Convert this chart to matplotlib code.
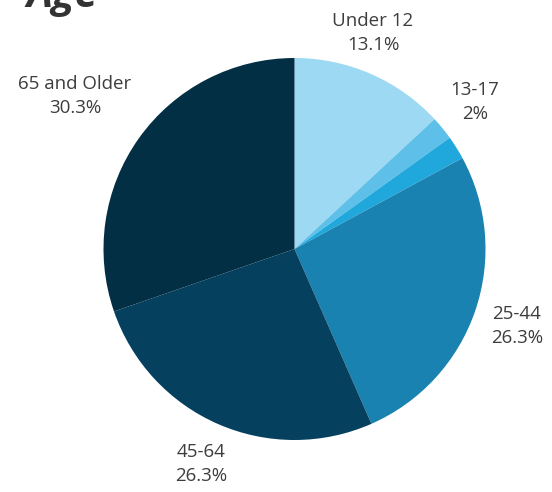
import matplotlib.pyplot as plt

# slices clockwise from 12 o'clock
AGE_GROUPS = ["Under 12", "13-17", "18-24", "25-44", "45-64", "65 and Older"]
SHARES = [13.1, 2, 2, 26.3, 26.3, 30.3]
SHOW_LABEL = [True, True, False, True, True, True]

COLORS = ["#9dd9f2", "#5ec0e8", "#20a8dd", "#1a82b0", "#05405e", "#032f45"]

# label centres in pixels (x, y from top)
LABEL_POS = {
    "Under 12": (373, 33),
    "13-17": (475, 102),
    "25-44": (517, 326),
    "45-64": (201, 464),
    "65 and Older": (75, 96),
}

W, H = 552, 492
CX, CY, R = 294.5, 249, 191

plt.rcParams['font.family'] = ['Open Sans', 'DejaVu Sans']
fig = plt.figure(figsize=(W / 100, H / 100), dpi=100)
ax = fig.add_axes([(CX - R) / W, (H - CY - R) / H, 2 * R / W, 2 * R / H])

ax.pie(SHARES, colors=COLORS, startangle=90, counterclock=False, radius=1,
       wedgeprops={'linewidth': 0})
ax.set_xlim(-1, 1)
ax.set_ylim(-1, 1)
ax.set_aspect('equal')
ax.axis('off')

for name, share, show in zip(AGE_GROUPS, SHARES, SHOW_LABEL):
    if not show:
        continue
    px, py = LABEL_POS[name]
    fig.text(px / W, 1 - py / H, f"{name}\n{share:g}%", ha='center', va='center',
             fontsize=13.5, color='#3d3d3d', linespacing=1.4)

fig.text(27 / W, 1 - 7 / H, "Age", ha='left', va='baseline', fontsize=30,
         fontweight='bold', fontstyle='italic', color='#333333')

fig.savefig("out.png", dpi=100)
